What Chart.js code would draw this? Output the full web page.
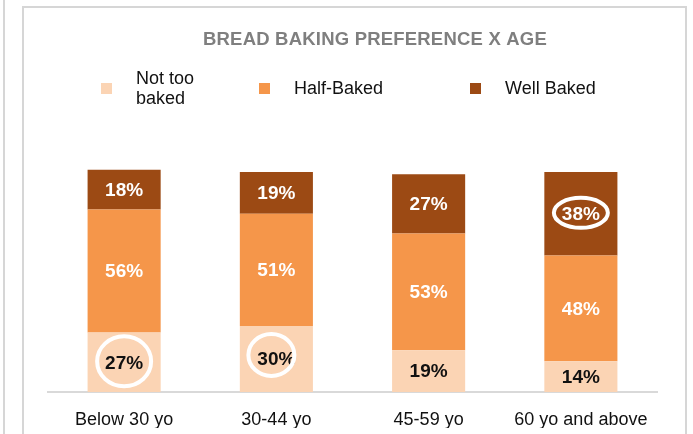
<!DOCTYPE html>
<html>
<head>
<meta charset="utf-8">
<script src="https://cdn.jsdelivr.net/npm/chart.js@4.4.1/dist/chart.umd.min.js"></script>
<style>
    html, body { margin: 0; padding: 0; background: #ffffff; }
    #wrap { position: relative; width: 693px; height: 434px; }
</style>
</head>
<body>
<div id="wrap"><canvas id="bakingChart" width="693" height="434"></canvas></div>
<script>
// age groups and share of each baking preference (%)
const ageGroups = ['Below 30 yo', '30-44 yo', '45-59 yo', '60 yo and above'];
const notTooBaked = [27, 30, 19, 14];
const halfBaked = [56, 51, 53, 48];
const wellBaked = [18, 19, 27, 38];
const seriesNames = [['Not too', 'baked'], 'Half-Baked', 'Well Baked'];
const seriesColors = ['#fbd4b4', '#f5964a', '#9c4a14'];
const labelColors = ['#111111', '#ffffff', '#ffffff'];
const chartTitle = 'BREAD BAKING PREFERENCE X AGE';

// grey frame around the chart panel
const framePlugin = {
    id: 'frame',
    beforeDraw(chart) {
        const ctx = chart.ctx;
        ctx.save();
        ctx.strokeStyle = '#d6d6d6';
        ctx.lineWidth = 2;
        ctx.beginPath();
        ctx.moveTo(4, 0);
        ctx.lineTo(4, 434);
        ctx.moveTo(23, 434);
        ctx.lineTo(23, 7);
        ctx.lineTo(686, 7);
        ctx.lineTo(686, 434);
        ctx.stroke();
        ctx.restore();
    }
};

// title and legend drawn at fixed spots in the header
const headerPlugin = {
    id: 'header',
    afterDraw(chart, args, opts) {
        const ctx = chart.ctx;
        ctx.save();
        ctx.font = 'bold 18.5px Arial, "Liberation Sans", sans-serif';
        ctx.fillStyle = '#7f7f7f';
        ctx.textAlign = 'left';
        ctx.textBaseline = 'middle';
        ctx.letterSpacing = '0.2px';
        ctx.fillText(chartTitle, opts.titleX, opts.titleY);
        ctx.letterSpacing = '0px';

        ctx.font = '18px Arial, "Liberation Sans", sans-serif';
        chart.data.datasets.forEach((ds, i) => {
            const x = opts.itemX[i];
            const y = opts.legendY;
            ctx.fillStyle = ds.backgroundColor;
            ctx.fillRect(x, y - 6, 11, 11);
            ctx.fillStyle = '#111111';
            const lines = Array.isArray(ds.label) ? ds.label : [ds.label];
            lines.forEach((line, j) => {
                const ly = y + (j - (lines.length - 1) / 2) * 20;
                ctx.fillText(line, x + 35, ly);
            });
        });
        ctx.restore();
    }
};

// percentage labels inside each segment, some of them circled
const valueLabelPlugin = {
    id: 'valueLabels',
    afterDatasetsDraw(chart, args, opts) {
        const ctx = chart.ctx;
        ctx.save();
        ctx.font = 'bold 19px Arial, "Liberation Sans", sans-serif';
        ctx.textAlign = 'center';
        ctx.textBaseline = 'middle';
        chart.data.datasets.forEach((ds, di) => {
            const meta = chart.getDatasetMeta(di);
            meta.data.forEach((bar, i) => {
                const cy = (bar.y + bar.base) / 2;
                ctx.fillStyle = labelColors[di];
                ctx.fillText(ds.data[i] + '%', bar.x, cy + 1);
            });
        });
        ctx.strokeStyle = '#ffffff';
        ctx.lineWidth = 4;
        opts.circled.forEach(c => {
            const bar = chart.getDatasetMeta(c.dataset).data[c.index];
            const cy = (bar.y + bar.base) / 2;
            ctx.beginPath();
            ctx.ellipse(bar.x + c.dx, cy + c.dy, c.rx, c.ry, 0, 0, Math.PI * 2);
            ctx.stroke();
        });
        ctx.restore();
    }
};

const ctx = document.getElementById('bakingChart').getContext('2d');
new Chart(ctx, {
    type: 'bar',
    data: {
        labels: ageGroups,
        datasets: [{
            label: seriesNames[0],
            data: notTooBaked,
            backgroundColor: seriesColors[0]
        }, {
            label: seriesNames[1],
            data: halfBaked,
            backgroundColor: seriesColors[1]
        }, {
            label: seriesNames[2],
            data: wellBaked,
            backgroundColor: seriesColors[2]
        }]
    },
    options: {
        responsive: false,
        animation: false,
        layout: {
            padding: { left: 48, right: 36, top: 172, bottom: 6 }
        },
        datasets: {
            bar: {
                categoryPercentage: 1,
                barPercentage: 0.48,
                clip: false
            }
        },
        scales: {
            x: {
                stacked: true,
                grid: { display: false },
                border: { color: '#d9d9d9', width: 2 },
                ticks: {
                    color: '#111111',
                    padding: 9,
                    font: { family: 'Arial, "Liberation Sans", sans-serif', size: 18 }
                },
                afterFit(scale) {
                    scale.height = 36;
                }
            },
            y: {
                stacked: true,
                display: false,
                min: 0,
                max: 100
            }
        },
        plugins: {
            legend: { display: false },
            tooltip: { enabled: false },
            header: { titleX: 203, titleY: 40, legendY: 89, itemX: [101, 259, 470] },
            valueLabels: {
                circled: [
                    { dataset: 0, index: 0, dx: 0, dy: -1, rx: 27, ry: 25 },
                    { dataset: 0, index: 1, dx: -5, dy: -4, rx: 23, ry: 21 },
                    { dataset: 2, index: 3, dx: 0, dy: -1, rx: 27, ry: 15 }
                ]
            }
        }
    },
    plugins: [framePlugin, headerPlugin, valueLabelPlugin]
});
</script>
</body>
</html>
